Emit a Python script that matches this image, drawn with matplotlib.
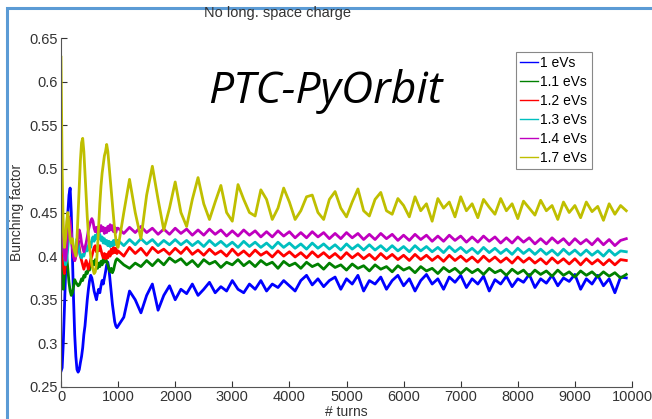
import numpy as np
import matplotlib
matplotlib.use("Agg")
import matplotlib.pyplot as plt
from matplotlib.patches import Rectangle

# bunching factor: fine steps (20 turns) before 1000 turns,
# coarse steps (100 turns) afterwards
labels = ["1 eVs", "1.1 eVs", "1.2 eVs", "1.3 eVs", "1.4 eVs", "1.7 eVs"]
colors = ["#0000ff", "#008000", "#ff0000", "#00bfbf", "#bf00bf", "#bfbf00"]

bf_10_early = [0.268, 0.272, 0.30, 0.34, 0.38, 0.42, 0.45, 0.47, 0.478, 0.45,
               0.40, 0.35, 0.31, 0.285, 0.27, 0.267, 0.27, 0.278, 0.285, 0.295,
               0.31, 0.32, 0.335, 0.35, 0.362, 0.372, 0.378, 0.375, 0.368, 0.36,
               0.355, 0.35, 0.357, 0.362, 0.358, 0.366, 0.372, 0.368, 0.375, 0.382,
               0.39, 0.393, 0.385, 0.372, 0.36, 0.345, 0.335, 0.325, 0.32, 0.318]
bf_10_late = [0.32, 0.33, 0.36, 0.35, 0.335, 0.355, 0.368, 0.338, 0.355, 0.366,
              0.35, 0.362, 0.357, 0.368, 0.355, 0.362, 0.37, 0.358, 0.365, 0.36,
              0.372, 0.362, 0.358, 0.368, 0.362, 0.372, 0.36, 0.368, 0.364, 0.372,
              0.366, 0.36, 0.372, 0.378, 0.367, 0.374, 0.365, 0.372, 0.376, 0.362,
              0.374, 0.368, 0.378, 0.36, 0.372, 0.368, 0.376, 0.362, 0.372, 0.378,
              0.366, 0.374, 0.36, 0.372, 0.379, 0.368, 0.374, 0.362, 0.376, 0.37,
              0.378, 0.364, 0.374, 0.368, 0.377, 0.36, 0.373, 0.368, 0.377, 0.365,
              0.374, 0.37, 0.379, 0.364, 0.374, 0.369, 0.378, 0.366, 0.375, 0.371,
              0.379, 0.362, 0.374, 0.368, 0.378, 0.366, 0.374, 0.358, 0.376, 0.375]

bf_11_early = [0.40, 0.38, 0.362, 0.38, 0.405, 0.40, 0.385, 0.37, 0.36, 0.355,
               0.358, 0.365, 0.373, 0.37, 0.368, 0.366, 0.367, 0.37, 0.374, 0.372,
               0.378, 0.376, 0.382, 0.38, 0.386, 0.384, 0.39, 0.388, 0.394, 0.39,
               0.396, 0.39, 0.386, 0.392, 0.388, 0.394, 0.39, 0.397, 0.393, 0.398,
               0.394, 0.39, 0.385, 0.382, 0.386, 0.381, 0.384, 0.39, 0.395, 0.397]
bf_11_late = [0.396, 0.39, 0.386, 0.392, 0.388, 0.395, 0.389, 0.396, 0.39, 0.398,
              0.393, 0.397, 0.39, 0.395, 0.388, 0.396, 0.391, 0.394, 0.387, 0.393,
              0.39, 0.396, 0.389, 0.394, 0.388, 0.395, 0.39, 0.393, 0.386, 0.394,
              0.389, 0.392, 0.386, 0.393, 0.388, 0.391, 0.385, 0.392, 0.387, 0.39,
              0.384, 0.391, 0.386, 0.389, 0.383, 0.39, 0.385, 0.388, 0.382, 0.389,
              0.384, 0.387, 0.381, 0.388, 0.383, 0.386, 0.38, 0.387, 0.382, 0.386,
              0.38, 0.386, 0.381, 0.385, 0.379, 0.386, 0.381, 0.384, 0.378, 0.385,
              0.38, 0.384, 0.377, 0.384, 0.379, 0.383, 0.377, 0.384, 0.378, 0.382,
              0.376, 0.383, 0.378, 0.382, 0.376, 0.382, 0.377, 0.381, 0.375, 0.379]

bf_12_early = [0.43, 0.41, 0.39, 0.38, 0.395, 0.415, 0.43, 0.44, 0.435, 0.425,
               0.41, 0.40, 0.395, 0.40, 0.41, 0.418, 0.41, 0.40, 0.395, 0.39,
               0.385, 0.39, 0.395, 0.39, 0.385, 0.39, 0.396, 0.40, 0.405, 0.41,
               0.412, 0.405, 0.41, 0.406, 0.412, 0.407, 0.402, 0.398, 0.403, 0.397,
               0.402, 0.398, 0.405, 0.40, 0.408, 0.403, 0.41, 0.404, 0.409, 0.403]
bf_12_late = [0.406, 0.40, 0.41, 0.403, 0.409, 0.401, 0.41, 0.404, 0.408, 0.402,
              0.409, 0.403, 0.41, 0.402, 0.407, 0.401, 0.408, 0.402, 0.406, 0.40,
              0.408, 0.401, 0.406, 0.40, 0.407, 0.401, 0.405, 0.399, 0.406, 0.40,
              0.405, 0.399, 0.404, 0.398, 0.405, 0.399, 0.404, 0.398, 0.403, 0.397,
              0.404, 0.398, 0.403, 0.397, 0.402, 0.396, 0.403, 0.397, 0.402, 0.396,
              0.401, 0.395, 0.402, 0.396, 0.401, 0.395, 0.40, 0.394, 0.401, 0.395,
              0.40, 0.394, 0.399, 0.393, 0.40, 0.394, 0.399, 0.393, 0.398, 0.392,
              0.399, 0.393, 0.398, 0.392, 0.397, 0.391, 0.398, 0.392, 0.397, 0.391,
              0.397, 0.39, 0.397, 0.391, 0.396, 0.39, 0.396, 0.39, 0.396, 0.395]

bf_13_early = [0.45, 0.44, 0.42, 0.40, 0.39, 0.395, 0.41, 0.425, 0.43, 0.425,
               0.415, 0.405, 0.40, 0.41, 0.42, 0.415, 0.405, 0.40, 0.398, 0.402,
               0.40, 0.405, 0.41, 0.406, 0.412, 0.416, 0.41, 0.418, 0.422, 0.417,
               0.424, 0.42, 0.426, 0.42, 0.425, 0.418, 0.422, 0.415, 0.42, 0.414,
               0.418, 0.412, 0.417, 0.411, 0.416, 0.412, 0.418, 0.413, 0.419, 0.414]
bf_13_late = [0.418, 0.412, 0.419, 0.413, 0.42, 0.414, 0.419, 0.412, 0.418, 0.413,
              0.419, 0.413, 0.418, 0.412, 0.417, 0.411, 0.418, 0.412, 0.417, 0.411,
              0.416, 0.41, 0.417, 0.411, 0.416, 0.41, 0.415, 0.409, 0.416, 0.41,
              0.415, 0.409, 0.414, 0.408, 0.415, 0.409, 0.414, 0.408, 0.413, 0.407,
              0.414, 0.408, 0.413, 0.407, 0.413, 0.407, 0.412, 0.406, 0.412, 0.406,
              0.411, 0.405, 0.412, 0.406, 0.411, 0.405, 0.41, 0.404, 0.411, 0.405,
              0.41, 0.404, 0.409, 0.403, 0.41, 0.404, 0.409, 0.403, 0.408, 0.402,
              0.409, 0.403, 0.408, 0.402, 0.408, 0.402, 0.407, 0.401, 0.408, 0.402,
              0.407, 0.401, 0.407, 0.401, 0.406, 0.40, 0.407, 0.401, 0.406, 0.405]

bf_14_early = [0.487, 0.46, 0.42, 0.40, 0.395, 0.41, 0.43, 0.445, 0.44, 0.425,
               0.41, 0.40, 0.395, 0.40, 0.41, 0.42, 0.43, 0.425, 0.415, 0.41,
               0.405, 0.41, 0.415, 0.422, 0.43, 0.435, 0.44, 0.443, 0.44, 0.432,
               0.428, 0.433, 0.427, 0.434, 0.428, 0.435, 0.429, 0.433, 0.426, 0.432,
               0.427, 0.434, 0.429, 0.436, 0.43, 0.435, 0.428, 0.433, 0.427, 0.432]
bf_14_late = [0.432, 0.426, 0.433, 0.427, 0.434, 0.427, 0.432, 0.425, 0.431, 0.425,
              0.432, 0.426, 0.431, 0.424, 0.43, 0.424, 0.431, 0.425, 0.43, 0.423,
              0.429, 0.423, 0.43, 0.424, 0.429, 0.422, 0.428, 0.422, 0.429, 0.423,
              0.428, 0.421, 0.427, 0.421, 0.428, 0.422, 0.427, 0.42, 0.426, 0.42,
              0.427, 0.421, 0.426, 0.419, 0.425, 0.419, 0.426, 0.42, 0.425, 0.418,
              0.424, 0.418, 0.425, 0.419, 0.424, 0.417, 0.423, 0.417, 0.424, 0.418,
              0.423, 0.416, 0.422, 0.416, 0.423, 0.417, 0.422, 0.415, 0.421, 0.415,
              0.422, 0.416, 0.421, 0.414, 0.42, 0.414, 0.421, 0.415, 0.42, 0.413,
              0.42, 0.414, 0.419, 0.413, 0.42, 0.413, 0.419, 0.412, 0.418, 0.42]

bf_17_early = [0.628, 0.50, 0.43, 0.41, 0.42, 0.44, 0.45, 0.435, 0.42, 0.415,
               0.42, 0.41, 0.405, 0.40, 0.42, 0.45, 0.48, 0.51, 0.53, 0.535,
               0.52, 0.495, 0.47, 0.445, 0.425, 0.41, 0.40, 0.39, 0.385, 0.38,
               0.382, 0.39, 0.41, 0.435, 0.46, 0.48, 0.495, 0.505, 0.515, 0.52,
               0.528, 0.52, 0.505, 0.49, 0.475, 0.46, 0.445, 0.43, 0.42, 0.412]
bf_17_late = [0.41, 0.45, 0.488, 0.45, 0.42, 0.47, 0.503, 0.465, 0.43, 0.455,
              0.485, 0.45, 0.434, 0.465, 0.49, 0.46, 0.442, 0.462, 0.481, 0.45,
              0.44, 0.482, 0.465, 0.45, 0.446, 0.476, 0.465, 0.442, 0.455, 0.478,
              0.462, 0.442, 0.452, 0.468, 0.47, 0.45, 0.442, 0.465, 0.474, 0.455,
              0.445, 0.462, 0.477, 0.452, 0.446, 0.465, 0.473, 0.452, 0.448, 0.466,
              0.458, 0.445, 0.468, 0.452, 0.46, 0.44, 0.466, 0.455, 0.462, 0.445,
              0.468, 0.452, 0.46, 0.444, 0.465, 0.456, 0.448, 0.466, 0.452, 0.46,
              0.443, 0.463, 0.455, 0.447, 0.464, 0.452, 0.458, 0.442, 0.462, 0.45,
              0.458, 0.444, 0.462, 0.451, 0.457, 0.441, 0.46, 0.448, 0.458, 0.452]

series = [(bf_10_early, bf_10_late), (bf_11_early, bf_11_late),
          (bf_12_early, bf_12_late), (bf_13_early, bf_13_late),
          (bf_14_early, bf_14_late), (bf_17_early, bf_17_late)]

plt.rcParams["font.family"] = ["Liberation Sans", "DejaVu Sans"]

fig = plt.figure(figsize=(6.52, 4.19), dpi=100)
ax = fig.add_axes([61 / 652, 1 - 387 / 419, (632 - 61) / 652, (387 - 38) / 419])

for (early, late), lab, col in zip(series, labels, colors):
    t = np.concatenate([np.arange(len(early)) * 20, 1000 + np.arange(len(late)) * 100])
    ax.plot(t, early + late, color=col, lw=2.0, label=lab)

ax.set_xlim(0, 10000)
ax.set_ylim(0.25, 0.65)
ax.set_xticks(np.arange(0, 10001, 1000))
ax.set_yticks(np.arange(0.25, 0.651, 0.05))
ax.set_yticklabels(["0.25", "0.3", "0.35", "0.4", "0.45", "0.5", "0.55", "0.6", "0.65"])
ax.tick_params(direction="in", length=4, labelsize=10.5, colors="#333333", pad=2)
for s in ["top", "right"]:
    ax.spines[s].set_visible(False)
for s in ["left", "bottom"]:
    ax.spines[s].set_color("#555555")
ax.set_xlabel("# turns", fontsize=10, color="#333333", labelpad=1)
ax.set_ylabel("Bunching factor", fontsize=10, color="#333333", labelpad=4)

leg = ax.legend(loc="upper left", bbox_to_anchor=(0.797, 0.96), fontsize=10,
                handlelength=1.3, handletextpad=0.15, borderpad=0.3,
                labelspacing=0.36, borderaxespad=0, fancybox=False, framealpha=1)
leg.get_frame().set_edgecolor("#888888")
leg.get_frame().set_linewidth(0.8)
for line in leg.get_lines():
    line.set_linewidth(1.0)

fig.text(278 / 652, 1 - 13 / 419, "No long. space charge", ha="center", va="center",
         fontsize=10.5, color="#333333")
fig.text(325 / 652, 1 - 92 / 419, "PTC-PyOrbit", ha="center", va="center",
         fontsize=32, style="italic", family=["Open Sans", "DejaVu Sans"])

fig.patches.append(Rectangle((6.5 / 652, -0.1), 2, 1.1 - 8.5 / 419,
                             transform=fig.transFigure, fill=False,
                             edgecolor="#5b9bd5", lw=2.2))

fig.savefig("out.png", dpi=100)
